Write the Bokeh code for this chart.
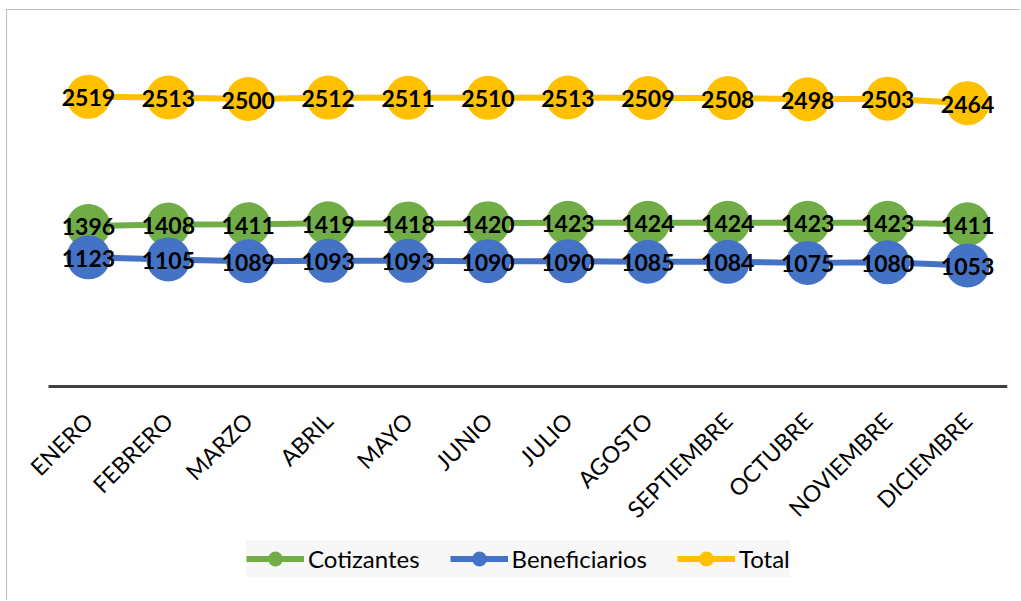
import math

from bokeh.core.properties import value
from bokeh.embed import file_html
from bokeh.models import FixedTicker, Legend, LegendItem, Range1d
from bokeh.plotting import figure
from bokeh.resources import INLINE

# Monthly figures
months = ["ENERO", "FEBRERO", "MARZO", "ABRIL", "MAYO", "JUNIO", "JULIO",
          "AGOSTO", "SEPTIEMBRE", "OCTUBRE", "NOVIEMBRE", "DICIEMBRE"]
cotizantes = [1396, 1408, 1411, 1419, 1418, 1420, 1423, 1424, 1424, 1423, 1423, 1411]
beneficiarios = [1123, 1105, 1089, 1093, 1093, 1090, 1090, 1085, 1084, 1075, 1080, 1053]
total = [2519, 2513, 2500, 2512, 2511, 2510, 2513, 2509, 2508, 2498, 2503, 2464]

series = [
    ("Cotizantes", cotizantes, "#70AD47"),
    ("Beneficiarios", beneficiarios, "#4472C4"),
    ("Total", total, "#FFC000"),
]

# month positions on a numeric axis, labelled with the month names
idx = list(range(len(months)))

# The frame runs from the top of the plot down to the legend; the value
# axis spans 0..3000 over its upper 345 px and the space beneath zero holds
# the month names and the legend.
Y_MAX = 3000
PLOT_PX = 345
FRAME_PX = 550
Y_MIN = -Y_MAX * (FRAME_PX - PLOT_PX) / PLOT_PX

p = figure(
    x_range=Range1d(-1.0, len(months) - 0.5),
    y_range=Range1d(Y_MIN, Y_MAX),
    width=1014, height=591,
    output_backend="svg", toolbar_location=None,
    min_border_left=1, min_border_right=14,
    min_border_top=31, min_border_bottom=10,
    background_fill_color="white", border_fill_color="white",
    outline_line_color=None,
)
p.frame_height = FRAME_PX
p.frame_width = 999
p.margin = (10, 0, 0, 7)
p.styles = {"box-shadow": "-1px -1px 0 0 #BFBFBF"}

p.xgrid.visible = False
p.ygrid.visible = False
p.yaxis.visible = False

ax = p.xaxis[0]
ax.fixed_location = 0
ax.bounds = (-0.5, len(months) - 0.5)
ax.ticker = FixedTicker(ticks=idx)
ax.major_label_overrides = {i: m for i, m in enumerate(months)}
ax.axis_line_width = 3
ax.axis_line_color = "#404040"
ax.major_tick_line_color = None
ax.minor_tick_line_color = None
ax.major_label_orientation = math.pi / 4
ax.major_label_standoff = 24
ax.major_label_text_font = "Lato"
ax.major_label_text_font_size = "23px"
ax.major_label_text_color = "#000000"

items = []
for name, vals, color in series:
    ln = p.line(idx, vals, line_color=color, line_width=6)
    sc = p.scatter(idx, vals, marker="circle", size=44,
                   fill_color=color, line_color=None)
    items.append(LegendItem(label=name, renderers=[ln, sc]))

# value labels over every marker
for name, vals, color in series:
    p.text(idx, vals, text=[str(v) for v in vals],
           text_font=value("Lato"), text_font_style="bold",
           text_font_size="23px", text_color="#000000",
           text_align="center", text_baseline="middle", y_offset=1)

legend = Legend(
    items=items, orientation="horizontal", location=(238, 14),
    background_fill_color="#F7F7F7", background_fill_alpha=1.0,
    border_line_color=None,
    label_text_font="Lato", label_text_font_size="24px",
    label_text_color="#000000",
    glyph_width=58, glyph_height=37, label_standoff=4,
    spacing=30, padding=6, margin=0,
)
p.add_layout(legend, "center")

open("out.html", "w").write(file_html(p, INLINE))
